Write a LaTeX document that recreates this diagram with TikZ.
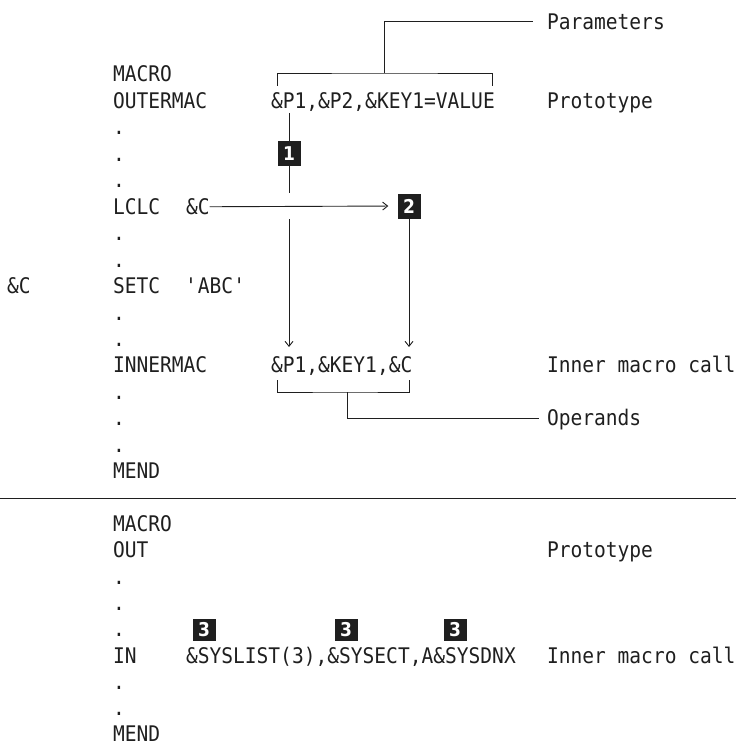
\documentclass[tikz,border=0pt]{standalone}
\usepackage{fontspec}
\setmonofont[FakeStretch=0.91]{DejaVu Sans Mono}
\newfontfamily\digitfont[FakeStretch=0.9]{DejaVu Sans}
\usetikzlibrary{arrows.meta,calc}
\definecolor{ink}{gray}{0.12}
\tikzset{
  code/.style={anchor=base west, inner sep=0pt, outer sep=0pt, text height=15pt, text depth=0pt,
    font=\ttfamily\fontsize{21.5}{21.5}\selectfont, text=ink},
  marker/.style={fill=ink, text=white, inner sep=0pt, minimum width=23pt, minimum height=25pt,
    font=\digitfont\bfseries\fontsize{19}{19}\selectfont},
  ln/.style={draw=ink, line width=0.9pt},
  arr/.style={ln, -{Straight Barb[length=5pt,width=8pt]}},
}
\begin{document}
\begin{tikzpicture}[x=1pt, y=-1pt]
\useasboundingbox (0,0) rectangle (736,746);

% ---------- upper section ----------
\node[code] (params) at (547,29.1) {Parameters};
\node[code] (mac1) at (113,82) {MACRO};
\node[code] (outer) at (113,108.45) {OUTERMAC};
\node[code] (pargs) at (271,108.45) {\&P1,\&P2,\&KEY1=VALUE};
\node[code] (proto1) at (547,108.45) {Prototype};
\node[code] (d2) at (113,134.9) {.};
\node[code] (d3) at (113,161.35) {.};
\node[code] (d4) at (113,187.8) {.};
\node[code] (lclc) at (113,214.25) {LCLC};
\node[code] (lclcC) at (186,214.25) {\&C};
\node[code] (d6) at (113,240.7) {.};
\node[code] (d7) at (113,267.15) {.};
\node[code] (setlab) at (7,293.6) {\&C};
\node[code] (setc) at (113,293.6) {SETC};
\node[code] (abc) at (185,293.6) {\textquotesingle ABC\textquotesingle};
\node[code] (d9) at (113,320.05) {.};
\node[code] (d10) at (113,346.5) {.};
\node[code] (inner) at (113,372.95) {INNERMAC};
\node[code] (iargs) at (271,372.95) {\&P1,\&KEY1,\&C};
\node[code] (icall1) at (547,372.95) {Inner macro call};
\node[code] (d12) at (113,399.4) {.};
\node[code] (d13) at (113,425.85) {.};
\node[code] (operands) at (547,425.85) {Operands};
\node[code] (d14) at (113,452.3) {.};
\node[code] (mend1) at (113,478.75) {MEND};

% markers
\node[marker] (m1) at (289,153.5) {1};
\node[marker] (m2) at (409,206) {2};

% parameter bracket
\coordinate (pbl) at (277,86);
\coordinate (pbr) at (492,86);
\coordinate (pbm) at (384.5,73);
\draw[ln] (pbl) |- (pbm) -| (pbr);
\draw[ln] (pbm) |- ($(params.west)+(-14,0)$);

% operand bracket
\coordinate (obl) at (277,380);
\coordinate (obr) at (409,380);
\coordinate (obm) at (347,392);
\draw[ln] (obl) |- (obm) -| (obr);
\draw[ln] (obm) |- ($(operands.west)+(-8,0)$);

% &P1 flow
\coordinate (p1top) at (289,113);
\coordinate (p1gapA) at (289,193);
\coordinate (p1gapB) at (289,219);
\coordinate (p1tip) at (289,347);
\draw[ln] (p1top) -- (m1);
\draw[ln] (m1) -- (p1gapA);
\draw[arr] (p1gapB) -- (p1tip);

% &C flow
\coordinate (c2tip) at (409,347);
\draw[arr, shorten >=9pt] (lclcC.east) -- (m2.west);
\draw[arr] (m2) -- (c2tip);

% separator
\coordinate (sepL) at (0,498);
\coordinate (sepR) at (736,498);
\draw[ln] (sepL) -- (sepR);

% ---------- lower section ----------
\node[code] (mac2) at (113,531.2) {MACRO};
\node[code] (out) at (113,557.6) {OUT};
\node[code] (proto2) at (547,557.6) {Prototype};
\node[code] (d19) at (113,584) {.};
\node[code] (d20) at (113,610.3) {.};
\node[code] (d21) at (113,636.7) {.};
\node[code] (in) at (113,663) {IN};
\node[code] (inargs) at (186,663) {\&SYSLIST(3),\&SYSECT,A\&SYSDNX};
\node[code] (icall2) at (547,663) {Inner macro call};
\node[code] (d23) at (113,689.2) {.};
\node[code] (d24) at (113,715.4) {.};
\node[code] (mend2) at (113,741.6) {MEND};

\node[marker, minimum height=22pt] (m3a) at (204,630) {3};
\node[marker, minimum height=22pt] (m3b) at (346,630) {3};
\node[marker, minimum height=22pt] (m3c) at (455,630) {3};
\end{tikzpicture}
\end{document}
